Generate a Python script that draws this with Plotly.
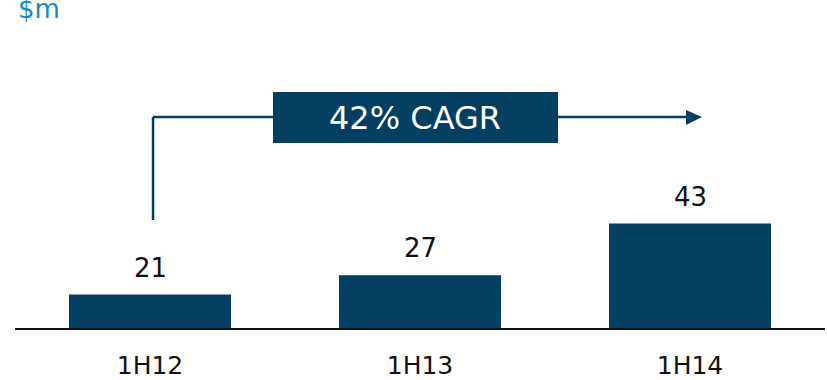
import plotly.graph_objects as go

# Half-year revenue, $m
periods = ["1H12", "1H13", "1H14"]
revenue = [21, 27, 43]
cagr_label = "42% CAGR"
unit_label = "$m"

NAVY = "#023F63"
BLUE = "#1589C8"
FONT = "DejaVu Sans"

fig = go.Figure(
    go.Bar(
        x=periods,
        y=revenue,
        width=0.6,
        marker=dict(color=NAVY, line=dict(width=0)),
        hoverinfo="skip",
    )
)

# value labels above each bar
for p, v in zip(periods, revenue):
    fig.add_annotation(
        x=p, y=v, xref="x", yref="y",
        text=str(v), showarrow=False,
        yanchor="bottom", yshift=10,
        font=dict(family=FONT, size=26, color="#111111"),
    )

# growth arrow: rises from the first bar, runs across the top to the last bar
line_style = dict(color=NAVY, width=2.5)
fig.add_shape(type="line", xref="paper", yref="paper",
              x0=0.1704, y0=0.375, x1=0.1704, y1=0.7326, line=line_style)
fig.add_shape(type="line", xref="paper", yref="paper",
              x0=0.1704, y0=0.7326, x1=0.3185, y1=0.7326, line=line_style)
fig.add_shape(type="line", xref="paper", yref="paper",
              x0=0.6704, y0=0.7326, x1=0.832, y1=0.7326, line=line_style)
fig.add_shape(type="path", xref="paper", yref="paper",
              path="M 0.8284 0.7569 L 0.8481 0.7326 L 0.8284 0.7049 Z",
              fillcolor=NAVY, line=dict(width=0))
fig.add_shape(type="rect", xref="paper", yref="paper",
              x0=0.3185, y0=0.6424, x1=0.6704, y1=0.8194,
              fillcolor=NAVY, line=dict(width=0))
fig.add_annotation(
    x=0.4944, y=0.7309, xref="paper", yref="paper",
    text=cagr_label, showarrow=False,
    xanchor="center", yanchor="middle",
    font=dict(family=FONT, size=32, color="white"),
)

# unit label, top-left
fig.add_annotation(
    x=0, y=1, xref="paper", yref="paper",
    text=unit_label, showarrow=False,
    xanchor="left", yanchor="top", xshift=1, yshift=48,
    font=dict(family=FONT, size=26, color=BLUE),
)

fig.update_layout(
    width=827, height=380,
    margin=dict(l=15, r=2, t=40, b=52, autoexpand=False),
    paper_bgcolor="white", plot_bgcolor="white",
    showlegend=False,
    bargap=0.4,
    xaxis=dict(
        automargin=False,
        showline=True, linecolor="#111111", linewidth=2,
        showgrid=False, zeroline=False, ticks="",
        tickfont=dict(family=FONT, size=25, color="#111111"),
        ticklabelstandoff=14,
        fixedrange=True,
    ),
    yaxis=dict(
        automargin=False,
        range=[10.6, 100], visible=False, showgrid=False,
        zeroline=False, fixedrange=True,
    ),
)

fig.write_html("out.html")
